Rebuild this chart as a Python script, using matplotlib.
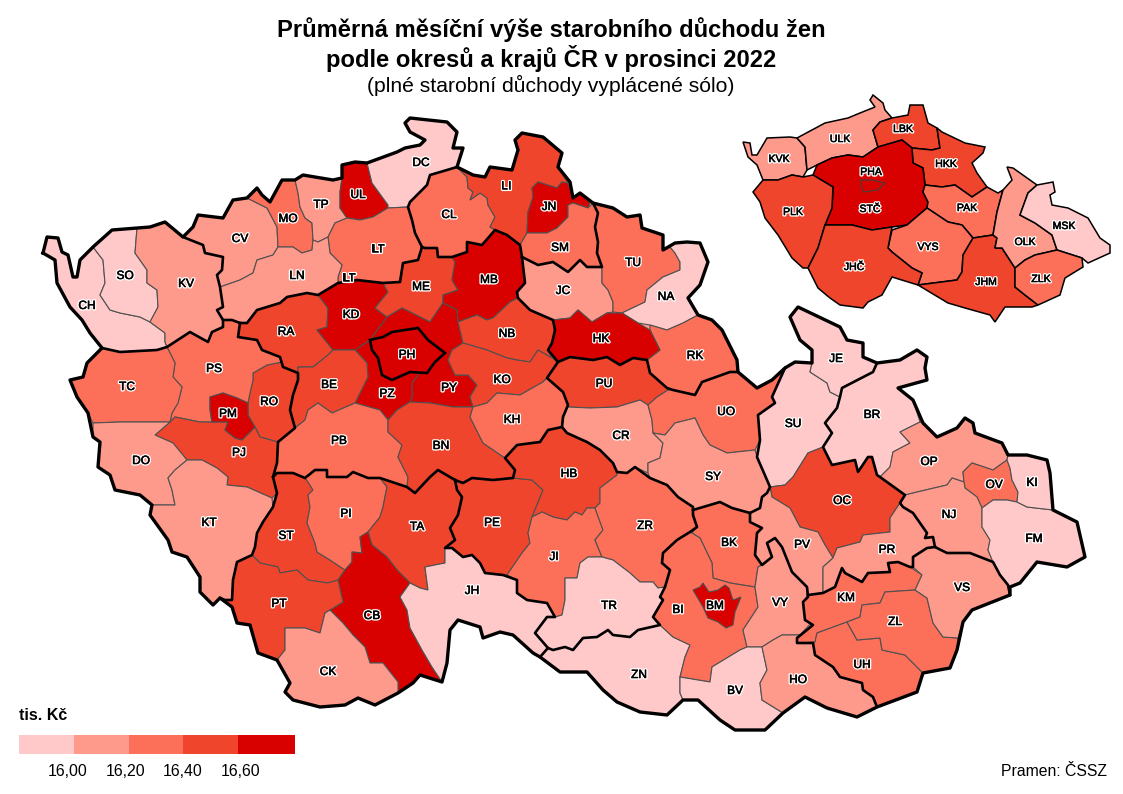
import matplotlib
matplotlib.use('Agg')
import matplotlib.pyplot as plt
import matplotlib.patheffects as pe
from matplotlib.colors import BoundaryNorm, ListedColormap
from matplotlib.patches import Rectangle

plt.rcParams['font.family'] = ['Liberation Sans', 'DejaVu Sans']

low = ['CH', 'SO', 'DC', 'NA', 'JE', 'SU', 'BR', 'FM', 'KI', 'JH', 'TR', 'ZN', 'BV']
mid_low = ['KV', 'CV', 'LN', 'TP', 'JC', 'CR', 'SY', 'DO', 'KT', 'CK', 'OP', 'NJ', 'PR', 'PV', 'VY', 'HO', 'VS']
mid = ['TC', 'PS', 'MO', 'LT', 'CL', 'SM', 'TU', 'RK', 'UO', 'KH', 'PB', 'PI', 'JI', 'ZR', 'BK', 'BI', 'KM', 'ZL', 'UH', 'OV']
mid_high = ['RA', 'ME', 'LI', 'BE', 'RO', 'PJ', 'ST', 'PT', 'TA', 'PE', 'HB', 'BN', 'NB', 'KO', 'PU', 'OC']
high = ['UL', 'JN', 'MB', 'KD', 'PH', 'PZ', 'PY', 'HK', 'PM', 'CB', 'BM']
class_values = [15.9, 16.1, 16.3, 16.5, 16.7]

# same by region
region_codes = ['KVK', 'ULK', 'LBK', 'HKK', 'PHA', 'STC', 'PLK', 'PAK', 'VYS', 'JHC', 'JHM', 'OLK', 'MSK', 'ZLK']
region_values = [16.1, 16.1, 16.5, 16.5, 16.7, 16.7, 16.5, 16.3, 16.3, 16.5, 16.5, 16.1, 15.9, 16.3]
region_names = {'STC': 'STČ', 'JHC': 'JHČ'}

breaks = [15.8, 16.0, 16.2, 16.4, 16.6, 16.8]
legend_labels = ['16,00', '16,20', '16,40', '16,60']
colors = ['#FFC9C9', '#FE9A8B', '#FC705A', '#EF452C', '#D90000']

cmap = ListedColormap(colors)
norm = BoundaryNorm(breaks, cmap.N)

outer = [(43,253),(47,237),(58,238),(62,252),(68,255),(73,277),(77,277),(80,260),(93,247),(112,230),(137,228),(150,227),(165,222),(183,237),(193,227),(198,215),(223,218),(233,200),(247,198),(257,188),(262,195),(270,202),(282,180),(295,180),(303,175),(333,180),(342,178),(342,165),(355,162),(367,163),(397,152),(405,148),(420,145),(425,140),(410,132),(405,123),(410,118),(447,122),(457,132),(453,148),(463,148),(457,167),(473,175),(485,177),(490,167),(512,170),(518,150),(515,140),(522,133),(543,137),(562,153),(558,167),(570,182),(573,198),(580,193),(593,203),(613,208),(627,217),(640,215),(642,228),(663,235),(663,250),(675,243),(687,242),(700,243),(708,262),(700,285),(688,298),(698,315),(712,320),(722,330),(737,360),(738,372),(757,388),(772,380),(785,368),(795,362),(812,363),(812,350),(800,340),(790,317),(798,307),(840,327),(847,340),(863,343),(863,357),(877,363),(900,360),(917,350),(927,357),(925,368),(927,380),(898,388),(913,400),(923,423),(937,437),(957,428),(965,418),(973,423),(975,433),(1002,443),(1008,455),(1027,455),(1047,460),(1050,473),(1053,510),(1077,522),(1085,557),(1067,567),(1037,562),(1020,583),(1010,587),(1010,595),(972,610),(963,622),(957,650),(950,668),(923,673),(917,692),(877,707),(857,717),(827,708),(805,697),(783,713),(765,730),(735,730),(720,720),(698,700),(683,700),(667,715),(640,712),(617,702),(603,690),(587,672),(560,672),(540,657),(533,653),(513,635),(500,632),(483,638),(480,627),(458,620),(450,630),(447,663),(442,682),(420,675),(413,683),(398,693),(375,705),(358,698),(345,705),(320,707),(293,700),(285,692),(290,683),(277,660),(258,653),(250,625),(237,623),(232,607),(220,598),(213,605),(200,592),(200,577),(187,557),(172,552),(168,540),(150,515),(152,505),(140,495),(115,490),(110,475),(98,467),(100,442),(93,437),(88,413),(77,397),(70,380),(83,377),(87,363),(102,348),(90,333),(82,320),(70,307),(57,283),(55,260),(43,253)]

shapes = {
    'CH': [(43,253),(47,237),(58,238),(62,252),(68,255),(73,277),(77,277),(80,260),(93,247),(103,260),(105,283),(100,295),(110,310),(120,313),(140,317),(150,322),(165,333),(165,342),(167,347),(157,350),(120,352),(102,348),(90,333),(82,320),(70,307),(57,283),(55,260)],
    'SO': [(93,247),(112,230),(137,228),(135,253),(147,270),(147,283),(157,290),(158,307),(150,322),(140,317),(120,313),(110,310),(100,295),(105,283),(103,260)],
    'KV': [(137,228),(150,227),(165,222),(183,237),(203,245),(205,253),(223,257),(222,270),(217,275),(220,287),(223,307),(217,310),(223,320),(223,327),(212,332),(208,342),(190,332),(167,347),(165,342),(165,333),(150,322),(158,307),(157,290),(147,283),(147,270),(135,253)],
    'CV': [(183,237),(193,227),(198,215),(223,218),(233,200),(247,198),(257,203),(267,208),(277,227),(278,247),(273,255),(257,260),(253,273),(240,280),(220,287),(217,275),(222,270),(223,257),(205,253),(203,245)],
    'MO': [(247,198),(257,188),(262,195),(270,202),(282,180),(295,180),(298,193),(300,207),(305,218),(312,223),(313,240),(312,250),(302,253),(293,247),(278,247),(277,227),(267,208),(257,203)],
    'TP': [(295,180),(303,175),(333,180),(342,178),(340,192),(340,208),(347,218),(335,223),(328,237),(318,242),(313,240),(312,223),(305,218),(300,207),(298,193)],
    'UL': [(342,178),(342,165),(355,162),(367,163),(372,183),(388,205),(388,208),(373,217),(360,220),(347,218),(340,208),(340,192)],
    'DC': [(367,163),(397,152),(405,148),(420,145),(425,140),(410,132),(405,123),(410,118),(447,122),(457,132),(453,148),(463,148),(457,167),(447,170),(430,175),(427,185),(410,202),(408,207),(388,208),(388,205),(372,183)],
    'LT': [(347,218),(360,220),(373,217),(388,208),(408,207),(412,220),(415,233),(422,247),(418,260),(403,263),(400,282),(383,283),(357,280),(338,283),(338,277),(342,265),(330,253),(328,237),(335,223)],
    'LN': [(278,247),(293,247),(302,253),(312,250),(313,240),(318,242),(328,237),(330,253),(342,265),(338,277),(338,283),(318,295),(307,293),(287,297),(280,303),(257,310),(247,323),(240,323),(232,320),(223,320),(217,310),(223,307),(220,287),(240,280),(253,273),(257,260),(273,255)],
    'RA': [(247,323),(257,310),(280,303),(287,297),(307,293),(318,295),(328,308),(327,327),(317,330),(333,350),(328,355),(313,367),(298,367),(298,373),(283,367),(280,357),(262,350),(257,340),(238,337),(240,323)],
    'KD': [(318,295),(338,283),(357,280),(383,283),(388,292),(375,308),(387,317),(370,340),(355,350),(333,350),(317,330),(327,327),(328,308)],
    'ME': [(418,260),(422,247),(425,248),(437,248),(438,257),(452,257),(455,262),(452,280),(458,290),(443,295),(443,303),(430,322),(410,312),(402,308),(387,317),(375,308),(388,292),(383,283),(400,282),(403,263)],
    'MB': [(452,257),(467,252),(467,242),(482,245),(495,230),(507,235),(520,245),(522,257),(525,283),(517,292),(518,298),(510,302),(493,318),(487,320),(477,315),(458,322),(457,310),(443,303),(443,295),(458,290),(452,280),(455,262)],
    'PY': [(387,317),(402,308),(410,312),(430,322),(443,303),(457,310),(458,322),(463,343),(452,350),(448,360),(455,375),(468,375),(477,385),(470,397),(473,407),(453,407),(430,403),(410,402),(412,397),(412,383),(420,372),(427,373),(435,362),(445,353),(428,340),(418,328),(392,332),(383,337),(370,340)],
    'PZ': [(370,340),(372,350),(378,358),(382,375),(392,380),(410,372),(420,372),(412,383),(412,397),(410,402),(397,410),(388,420),(380,410),(355,403),(368,377),(367,363),(355,350)],
    'BE': [(298,367),(313,367),(328,355),(333,350),(355,350),(367,363),(368,377),(355,403),(332,413),(318,403),(308,410),(305,420),(295,428),(290,410),(293,395),(298,380),(298,373)],
    'RO': [(282,362),(283,367),(298,373),(298,380),(293,395),(290,410),(295,428),(278,442),(260,437),(255,427),(248,415),(248,403),(250,393),(253,380),(253,373),(267,365)],
    'PM': [(210,397),(223,393),(237,398),(248,403),(248,415),(255,427),(242,440),(235,438),(225,430),(228,422),(212,422),(210,410)],
    'PS': [(167,347),(190,332),(208,342),(212,332),(223,327),(223,320),(232,320),(240,323),(238,337),(257,340),(262,350),(280,357),(283,367),(282,362),(267,365),(253,373),(253,380),(250,393),(248,403),(237,398),(223,393),(210,397),(210,410),(212,422),(200,422),(175,417),(170,422),(172,413),(178,403),(182,387),(173,377),(175,363)],
    'TC': [(102,348),(120,352),(157,350),(167,347),(175,363),(173,377),(182,387),(178,403),(172,413),(170,422),(145,422),(120,422),(93,423),(88,413),(77,397),(70,380),(83,377),(87,363)],
    'PJ': [(155,435),(170,422),(175,417),(200,422),(212,422),(228,422),(225,430),(235,438),(242,440),(255,427),(260,437),(278,442),(277,463),(273,477),(277,493),(272,498),(247,487),(227,485),(228,477),(217,468),(202,460),(187,460),(173,443)],
    'DO': [(93,423),(120,422),(145,422),(170,422),(155,435),(173,443),(187,460),(175,470),(168,478),(172,490),(175,505),(155,505),(152,505),(140,495),(115,490),(110,475),(98,467),(100,442),(93,437)],
    'KT': [(152,505),(175,505),(172,490),(168,478),(175,470),(187,460),(202,460),(217,468),(228,477),(227,485),(247,487),(272,498),(273,507),(263,522),(257,533),(255,547),(252,555),(237,562),(233,580),(232,600),(225,600),(220,598),(213,605),(200,592),(200,577),(187,557),(172,552),(168,540),(150,515)],
    'PB': [(273,477),(277,473),(293,473),(305,478),(315,470),(327,470),(327,477),(347,477),(353,472),(368,478),(380,478),(407,487),(408,477),(398,457),(402,445),(388,432),(388,420),(380,410),(355,403),(332,413),(318,403),(308,410),(305,420),(295,428),(278,442),(277,463)],
    'BN': [(388,420),(397,410),(410,402),(430,403),(453,407),(473,407),(470,417),(483,443),(505,458),(515,470),(513,478),(493,480),(472,478),(463,483),(455,480),(438,470),(430,477),(415,493),(407,487),(408,477),(398,457),(402,445),(388,432)],
    'ST': [(273,477),(277,473),(293,473),(305,478),(308,482),(313,490),(308,495),(310,507),(307,523),(315,543),(317,552),(330,560),(345,570),(338,580),(328,583),(308,580),(297,570),(280,573),(278,567),(260,563),(252,555),(255,547),(257,533),(263,522),(273,507),(277,493)],
    'PI': [(305,478),(315,470),(327,470),(327,477),(347,477),(353,472),(368,478),(380,478),(387,487),(383,507),(380,517),(368,532),(360,537),(362,553),(352,552),(352,562),(345,570),(330,560),(317,552),(315,543),(307,523),(310,507),(308,495),(313,490),(308,482)],
    'TA': [(380,478),(407,487),(415,493),(430,477),(438,470),(455,480),(457,490),(462,497),(458,515),(450,528),(455,540),(445,548),(445,563),(425,567),(428,590),(420,588),(410,583),(397,570),(387,557),(372,545),(368,532),(380,517),(383,507),(387,487)],
    'CB': [(368,532),(372,545),(387,557),(397,570),(410,583),(400,597),(407,610),(410,628),(422,650),(432,667),(442,682),(420,675),(413,683),(398,693),(398,682),(383,663),(370,663),(365,647),(353,635),(343,623),(330,610),(343,602),(338,580),(345,570),(352,562),(352,552),(362,553),(360,537)],
    'PT': [(252,555),(260,563),(278,567),(280,573),(297,570),(308,580),(328,583),(338,580),(343,602),(330,610),(325,613),(320,633),(305,628),(285,628),(285,650),(277,660),(258,653),(250,625),(237,623),(232,607),(220,598),(225,600),(232,600),(233,580),(237,562)],
    'CK': [(277,660),(285,650),(285,628),(305,628),(320,633),(325,613),(330,610),(343,623),(353,635),(365,647),(370,663),(383,663),(398,682),(398,693),(375,705),(358,698),(345,705),(320,707),(293,700),(285,692),(290,683)],
    'JH': [(410,583),(420,588),(428,590),(425,567),(445,563),(445,548),(452,548),(463,557),(472,555),(480,563),(485,573),(503,575),(517,580),(517,593),(527,600),(547,603),(555,617),(547,617),(535,633),(548,648),(540,657),(533,653),(513,635),(500,632),(483,638),(480,627),(458,620),(450,630),(447,663),(442,682),(432,667),(422,650),(410,628),(407,610),(400,597)],
    'PE': [(513,478),(532,480),(543,490),(537,505),(532,517),(528,533),(530,543),(522,553),(507,575),(503,575),(485,573),(480,563),(472,555),(463,557),(452,548),(445,548),(455,540),(450,528),(458,515),(462,497),(457,490),(455,480),(463,483),(472,478),(493,480)],
    'HB': [(505,458),(517,445),(540,442),(548,430),(562,427),(567,433),(587,442),(600,450),(613,463),(617,472),(617,475),(600,488),(600,503),(595,508),(587,508),(582,515),(575,512),(567,520),(553,517),(542,512),(532,517),(537,505),(543,490),(532,480),(513,478),(515,470)],
    'JI': [(532,517),(542,512),(553,517),(567,520),(575,512),(582,515),(587,508),(595,508),(603,530),(595,540),(602,557),(588,557),(580,563),(577,578),(565,578),(565,600),(562,615),(555,617),(547,603),(527,600),(517,593),(517,580),(507,575),(522,553),(530,543),(528,533)],
    'ZR': [(617,472),(627,473),(635,467),(650,478),(667,485),(678,497),(693,507),(693,515),(697,527),(690,532),(677,540),(663,553),(662,563),(670,570),(665,587),(658,588),(653,582),(640,582),(630,573),(613,560),(602,557),(595,540),(603,530),(595,508),(600,503),(600,488),(617,475)],
    'TR': [(602,557),(613,560),(630,573),(640,582),(653,582),(658,588),(665,587),(660,597),(663,600),(653,617),(660,625),(638,630),(630,637),(613,635),(608,630),(597,637),(583,638),(573,650),(565,647),(553,650),(548,648),(535,633),(547,617),(555,617),(562,615),(565,600),(565,578),(577,578),(580,563),(588,557)],
    'ZN': [(548,648),(553,650),(565,647),(573,650),(583,638),(597,637),(608,630),(613,635),(630,637),(638,630),(660,625),(673,637),(690,645),(685,657),(680,677),(680,693),(683,700),(667,715),(640,712),(617,702),(603,690),(587,672),(560,672),(540,657)],
    'BK': [(693,510),(720,502),(732,508),(750,513),(750,522),(762,528),(757,533),(755,555),(762,565),(758,567),(755,587),(730,583),(713,578),(712,563),(700,538),(692,533),(697,527),(693,515)],
    'BI': [(692,533),(700,538),(712,563),(713,578),(730,583),(755,587),(758,607),(743,630),(747,647),(740,650),(712,667),(710,682),(680,677),(685,657),(690,645),(673,637),(660,625),(653,617),(663,600),(660,597),(665,587),(670,570),(662,563),(663,553),(677,540),(690,532)],
    'BM': [(693,590),(700,587),(703,583),(709,592),(718,590),(725,585),(729,588),(733,600),(741,597),(735,612),(733,625),(726,628),(718,622),(708,618),(703,607)],
    'VY': [(758,567),(762,565),(772,557),(767,543),(775,538),(782,547),(792,572),(807,587),(808,597),(803,602),(805,620),(812,622),(800,635),(782,635),(773,640),(762,647),(747,647),(743,630),(758,607),(755,587)],
    'BV': [(680,677),(710,682),(712,667),(740,650),(747,647),(762,647),(767,670),(760,683),(762,700),(783,713),(765,730),(735,730),(720,720),(698,700),(683,700),(680,693)],
    'HO': [(762,647),(773,640),(782,635),(800,635),(797,643),(813,643),(815,655),(833,667),(840,677),(862,683),(863,690),(873,697),(877,707),(857,717),(827,708),(805,697),(783,713),(762,700),(760,683),(767,670)],
    'KM': [(808,595),(823,593),(835,587),(842,568),(845,573),(862,582),(868,573),(890,572),(888,563),(898,562),(910,567),(922,575),(915,590),(885,592),(880,603),(862,605),(860,617),(847,622),(817,633),(815,642),(797,643),(797,638),(813,625),(805,620),(803,602)],
    'UH': [(817,633),(847,622),(857,640),(880,638),(882,650),(905,655),(923,673),(917,692),(877,707),(873,697),(863,690),(862,683),(840,677),(833,667),(815,655),(813,643),(815,642)],
    'ZL': [(847,622),(860,617),(862,605),(880,603),(885,592),(915,590),(927,598),(933,623),(943,637),(958,638),(957,650),(950,668),(923,673),(905,655),(882,650),(880,638),(857,640)],
    'VS': [(922,575),(913,567),(913,557),(927,548),(935,547),(947,553),(970,553),(993,562),(1000,575),(1008,585),(1010,595),(972,610),(963,622),(958,638),(943,637),(933,623),(927,598),(915,590)],
    'SU': [(760,413),(775,403),(772,397),(785,368),(795,362),(812,363),(810,372),(827,383),(830,392),(840,397),(837,408),(825,423),(832,433),(823,447),(808,453),(793,477),(785,485),(770,487),(767,480),(757,457),(760,440),(758,415)],
    'JE': [(812,363),(812,350),(800,340),(790,317),(798,307),(840,327),(847,340),(863,343),(863,357),(877,363),(873,372),(842,388),(840,397),(830,392),(827,383),(810,372)],
    'BR': [(877,363),(900,360),(917,350),(927,357),(925,368),(927,380),(898,388),(913,400),(920,422),(900,432),(910,443),(893,452),(890,467),(880,477),(877,475),(872,457),(868,457),(858,472),(855,460),(832,465),(823,447),(832,433),(825,423),(837,408),(840,397),(842,388),(873,372)],
    'OC': [(823,447),(832,465),(855,460),(858,472),(868,457),(872,457),(877,475),(880,477),(905,495),(900,503),(890,518),(890,532),(863,535),(860,542),(837,548),(833,558),(825,545),(818,532),(800,527),(790,508),(772,497),(770,487),(785,485),(793,477),(808,453)],
    'PV': [(770,487),(772,497),(790,508),(800,527),(818,532),(825,545),(833,558),(823,567),(823,593),(808,595),(807,587),(792,572),(782,547),(775,538),(767,543),(772,557),(762,565),(755,555),(757,533),(762,528),(750,522),(750,513),(760,508),(762,497),(767,493)],
    'PR': [(823,567),(833,558),(837,548),(860,542),(863,535),(890,532),(890,518),(900,503),(903,507),(913,513),(927,533),(925,538),(933,537),(935,547),(927,548),(913,557),(913,567),(910,567),(898,562),(888,563),(890,572),(868,573),(862,582),(845,573),(842,568),(835,587),(823,593)],
    'OP': [(880,477),(890,467),(893,452),(910,443),(900,432),(920,422),(923,423),(937,437),(957,428),(965,418),(973,423),(975,433),(1002,443),(1008,455),(1007,460),(993,470),(972,463),(963,472),(964,482),(952,478),(947,485),(917,492),(905,495)],
    'OV': [(963,472),(972,463),(993,470),(1007,460),(1010,468),(1012,480),(1018,492),(1017,502),(1007,500),(993,500),(982,508),(977,497),(965,488),(964,482)],
    'NJ': [(905,495),(917,492),(947,485),(952,478),(964,482),(965,488),(977,497),(982,508),(982,527),(990,540),(988,550),(993,562),(970,553),(947,553),(935,547),(933,537),(925,538),(927,533),(913,513),(903,507),(900,503)],
    'FM': [(982,508),(993,500),(1007,500),(1017,502),(1027,507),(1053,510),(1077,522),(1085,557),(1067,567),(1037,562),(1020,583),(1010,587),(1008,585),(1000,575),(993,562),(988,550),(990,540),(982,527)],
    'KI': [(1007,460),(1008,455),(1027,455),(1047,460),(1050,473),(1053,510),(1027,507),(1017,502),(1018,492),(1012,480),(1010,468)],
    'CL': [(430,175),(447,170),(457,167),(467,177),(468,188),(473,192),(470,200),(480,193),(487,198),(488,205),(495,217),(490,227),(495,230),(482,245),(467,242),(467,252),(452,257),(438,257),(437,248),(425,248),(422,247),(415,233),(412,220),(408,207),(410,202),(427,185)],
    'LI': [(457,167),(473,175),(485,177),(490,167),(512,170),(518,150),(515,140),(522,133),(543,137),(562,153),(558,167),(568,183),(562,182),(557,188),(538,182),(532,188),(533,197),(528,212),(527,233),(520,245),(507,235),(495,230),(490,227),(495,217),(488,205),(487,198),(480,193),(470,200),(473,192),(468,188),(467,177)],
    'JN': [(562,182),(568,183),(573,198),(580,193),(590,203),(588,208),(573,203),(568,205),(568,217),(557,228),(547,233),(527,233),(528,212),(533,197),(532,188),(538,182),(557,188)],
    'SM': [(527,233),(547,233),(557,228),(568,217),(568,205),(573,203),(588,208),(593,203),(598,213),(595,227),(598,242),(597,253),(602,267),(587,267),(580,260),(568,272),(553,262),(538,265),(522,257),(520,245)],
    'JC': [(522,257),(538,265),(553,262),(568,272),(580,260),(587,267),(602,267),(602,283),(608,290),(613,302),(613,312),(607,313),(592,322),(578,310),(570,318),(553,320),(530,310),(518,298),(517,292),(525,283)],
    'TU': [(593,203),(613,208),(627,217),(640,215),(642,228),(663,235),(663,250),(670,247),(675,253),(680,262),(680,270),(663,277),(647,290),(645,302),(622,313),(613,312),(613,302),(608,290),(602,283),(602,267),(597,253),(598,242),(595,227),(598,213)],
    'NA': [(670,247),(675,243),(687,242),(700,243),(708,262),(700,285),(688,298),(698,315),(683,323),(667,330),(650,325),(638,323),(622,313),(645,302),(647,290),(663,277),(680,270),(680,262),(675,253)],
    'RK': [(650,325),(667,330),(683,323),(698,315),(712,320),(722,330),(737,360),(738,372),(730,372),(702,382),(695,395),(673,390),(667,388),(650,373),(647,360),(660,350),(650,330)],
    'HK': [(553,320),(570,318),(578,310),(592,322),(607,313),(622,313),(638,323),(650,330),(660,350),(647,360),(633,358),(620,365),(607,357),(593,360),(570,357),(558,362),(548,350),(552,343),(555,330)],
    'NB': [(458,322),(477,315),(487,320),(493,318),(510,302),(518,298),(530,310),(553,320),(555,330),(552,343),(548,350),(552,358),(538,350),(530,362),(517,360),(507,358),(487,350),(463,343)],
    'KO': [(463,343),(487,350),(507,358),(517,360),(530,362),(538,350),(552,358),(558,362),(547,378),(543,382),(520,395),(497,393),(487,403),(473,407),(470,397),(477,385),(468,375),(455,375),(448,360),(452,350)],
    'KH': [(473,407),(487,403),(497,393),(520,395),(543,382),(547,378),(563,392),(568,405),(563,417),(562,427),(548,430),(540,442),(517,445),(505,458),(483,443),(470,417)],
    'PU': [(547,378),(558,362),(570,357),(593,360),(607,357),(620,365),(633,358),(647,360),(650,373),(667,388),(668,390),(657,397),(648,405),(640,400),(617,407),(590,408),(568,407),(568,405),(563,392)],
    'CR': [(568,407),(590,408),(617,407),(640,400),(648,405),(652,420),(653,433),(663,443),(660,458),(648,463),(648,473),(635,467),(627,473),(617,472),(613,463),(600,450),(587,442),(567,433),(562,427),(563,417)],
    'UO': [(668,390),(673,390),(695,395),(702,382),(730,372),(738,372),(757,388),(772,380),(785,368),(772,397),(775,403),(758,415),(760,440),(755,450),(727,453),(710,445),(703,435),(695,418),(675,423),(665,435),(653,433),(652,420),(648,405),(657,397)],
    'SY': [(653,433),(665,435),(675,423),(695,418),(703,435),(710,445),(727,453),(755,450),(757,457),(767,480),(770,487),(767,493),(762,497),(760,508),(750,513),(732,508),(720,502),(693,510),(693,507),(678,497),(667,485),(650,478),(648,473),(648,463),(660,458),(663,443)],
    'PH': [(370,340),(383,337),(392,332),(418,328),(428,340),(445,353),(435,362),(427,373),(410,372),(392,380),(382,375),(378,358),(372,350)],
}

# borders between regions, thick black
region_lines = [
    [(102,348),(120,352),(157,350),(167,347),(190,332),(208,342),(212,332),(223,327),(223,320)],
    [(183,237),(203,245),(205,253),(223,257),(222,270),(217,275),(220,287),(223,307),(217,310),(223,320),(232,320),(240,323),(247,323),(257,310),(280,303),(287,297),(307,293),(318,295),(338,283),(357,280),(383,283),(400,282),(403,263),(418,260),(422,247),(415,233),(412,220),(408,207),(410,202),(427,185),(430,175),(447,170),(457,167)],
    [(240,323),(238,337),(257,340),(262,350),(280,357),(283,367),(298,373),(298,380),(293,395),(290,410),(295,428),(278,442),(277,463),(273,477),(277,493),(273,507),(263,522),(257,533),(255,547),(252,555),(237,562),(233,580),(232,600),(225,600),(220,598)],
    [(273,477),(277,473),(293,473),(305,478),(315,470),(327,470),(327,477),(347,477),(353,472),(368,478),(380,478),(407,487),(415,493),(430,477),(438,470),(455,480),(463,483),(472,478),(493,480),(513,478),(515,470),(505,458),(517,445),(540,442),(548,430),(562,427),(563,417),(568,405),(563,392),(547,378),(558,362),(548,350),(552,343),(555,330),(553,320),(530,310),(518,298),(517,292),(525,283),(522,257),(520,245),(507,235),(495,230),(482,245),(467,242),(467,252),(452,257),(438,257),(437,248),(425,248),(422,247)],
    [(455,480),(457,490),(462,497),(458,515),(450,528),(455,540),(445,548),(452,548),(463,557),(472,555),(480,563),(485,573),(503,575),(517,580),(517,593),(527,600),(547,603),(555,617),(547,617),(535,633),(548,648),(540,657)],
    [(522,257),(538,265),(553,262),(568,272),(580,260),(587,267),(602,267),(597,253),(598,242),(595,227),(598,213),(593,203)],
    [(558,362),(570,357),(593,360),(607,357),(620,365),(633,358),(647,360),(650,373),(667,388),(673,390),(695,395),(702,382),(730,372),(738,372)],
    [(562,427),(567,433),(587,442),(600,450),(613,463),(617,472),(627,473),(635,467),(650,478),(667,485),(678,497),(693,507),(693,515),(697,527),(690,532),(677,540),(663,553),(662,563),(670,570),(665,587),(660,597),(663,600),(653,617),(660,625),(638,630),(630,637),(613,635),(608,630),(597,637),(583,638),(573,650),(565,647),(553,650),(548,648)],
    [(693,510),(720,502),(732,508),(750,513),(760,508),(762,497),(767,493),(770,487),(767,480),(757,457),(760,440),(758,415),(775,403),(772,397),(785,368)],
    [(750,513),(750,522),(762,528),(757,533),(755,555),(762,565),(772,557),(767,543),(775,538),(782,547),(792,572),(807,587),(808,597),(803,602),(805,620),(813,625),(797,638),(797,643),(813,643),(815,655),(833,667),(840,677),(862,683),(863,690),(873,697),(877,707)],
    [(808,595),(823,593),(835,587),(842,568),(845,573),(862,582),(868,573),(890,572),(888,563),(898,562),(910,567),(913,567),(913,557),(927,548),(935,547)],
    [(877,363),(873,372),(842,388),(840,397),(837,408),(825,423),(832,433),(823,447),(832,465),(855,460),(858,472),(868,457),(872,457),(877,475),(880,477),(905,495),(900,503),(903,507),(913,513),(927,533),(925,538),(933,537),(935,547),(947,553),(970,553),(993,562),(1000,575),(1008,585),(1010,595)],
]

inset_shapes = {
    'KVK': [(743,142),(750,143),(752,155),(757,155),(767,138),(790,137),(797,138),(805,147),(807,170),(803,177),(792,175),(778,180),(763,180),(757,165),(748,157),(745,148)],
    'ULK': [(797,138),(825,123),(848,118),(860,113),(875,107),(870,100),(873,95),(883,103),(885,110),(892,118),(880,122),(873,130),(878,147),(863,157),(848,155),(832,158),(817,165),(807,170),(805,147)],
    'LBK': [(873,130),(880,122),(892,118),(908,115),(910,105),(923,105),(928,123),(937,128),(940,148),(932,150),(912,148),(902,140),(878,147)],
    'HKK': [(937,128),(942,132),(965,143),(985,147),(983,153),(972,163),(977,173),(987,187),(972,197),(955,185),(942,187),(925,185),(923,168),(913,163),(912,148),(932,150),(940,148)],
    'PAK': [(925,185),(942,187),(955,185),(972,197),(987,187),(998,193),(1003,190),(997,212),(993,235),(973,238),(962,225),(948,222),(927,208),(928,202),(923,192)],
    'OLK': [(1007,167),(1013,168),(1037,185),(1028,193),(1020,215),(1035,223),(1052,235),(1057,250),(1035,255),(1025,260),(1015,268),(1002,248),(995,248),(997,238),(993,235),(997,212),(1003,190),(1012,180)],
    'MSK': [(1037,185),(1053,182),(1055,192),(1050,195),(1052,205),(1068,208),(1088,218),(1100,238),(1110,245),(1110,253),(1088,263),(1082,258),(1057,250),(1052,235),(1035,223),(1020,215),(1028,193)],
    'ZLK': [(1015,268),(1025,260),(1035,255),(1057,250),(1082,258),(1083,267),(1065,278),(1060,295),(1038,305),(1025,295),(1015,287)],
    'JHM': [(973,238),(993,235),(997,238),(995,248),(1002,248),(1015,268),(1015,287),(1025,295),(1038,305),(1032,307),(1005,307),(995,322),(990,315),(965,308),(948,303),(923,288),(918,285),(957,280),(962,272),(963,255)],
    'VYS': [(888,248),(892,230),(907,225),(927,208),(948,222),(962,225),(973,238),(963,255),(962,272),(957,280),(918,285),(922,273),(912,268),(892,252)],
    'JHC': [(825,225),(852,225),(872,230),(892,227),(888,248),(892,252),(912,268),(922,273),(918,285),(892,277),(882,295),(868,302),(863,308),(840,305),(830,298),(818,288),(808,268),(818,248)],
    'PLK': [(753,192),(763,180),(778,180),(792,175),(803,177),(813,175),(833,187),(832,208),(825,225),(818,248),(808,268),(803,268),(792,258),(778,235),(765,218),(760,202)],
    'STC': [(813,175),(817,165),(832,158),(848,155),(863,157),(878,147),(902,140),(912,148),(913,163),(923,168),(925,185),(923,192),(928,202),(927,208),(907,225),(892,227),(872,230),(852,225),(825,225),(832,208),(833,187)],
    'PHA': [(860,180),(872,180),(885,183),(878,190),(863,192)],
}

# label anchor of each unit
label_pos = {
    'CH': (87,306), 'SO': (125,276), 'KV': (186,284), 'CV': (240,239), 'MO': (288,219), 'TP': (321,205),
    'UL': (358,195), 'LT': (378,249), 'LN': (297,276), 'DC': (421,163), 'CL': (449,215), 'LI': (506,186),
    'JN': (549,207), 'SM': (560,248), 'TU': (633,263), 'JC': (563,291), 'MB': (489,280), 'ME': (421,287),
    'KD': (351,315), 'RA': (286,332), 'NA': (666,297), 'HK': (601,339), 'NB': (507,334), 'PH': (407,355),
    'RK': (695,356), 'PU': (604,384), 'KO': (502,380), 'PY': (449,388), 'PZ': (387,394), 'BE': (329,385),
    'RO': (269,402), 'PM': (228,414), 'PS': (214,369), 'TC': (127,387), 'PJ': (239,453), 'DO': (141,461),
    'KT': (209,523), 'PB': (339,441), 'BN': (441,446), 'KH': (512,420), 'CR': (621,436), 'UO': (726,412),
    'SY': (713,477), 'SU': (793,424), 'JE': (836,359), 'BR': (872,415), 'OP': (929,462), 'KI': (1032,483),
    'OV': (994,485), 'NJ': (949,515), 'FM': (1034,539), 'OC': (842,501), 'PV': (802,545), 'PR': (887,550),
    'BK': (729,543), 'ZR': (645,526), 'HB': (569,474), 'PE': (492,523), 'JI': (554,557), 'TA': (417,527),
    'PI': (346,514), 'ST': (286,536), 'PT': (279,604), 'CB': (372,616), 'JH': (472,591), 'TR': (609,606),
    'BI': (678,610), 'BM': (715,606), 'VY': (780,603), 'KM': (846,598), 'ZL': (895,622), 'VS': (962,588),
    'UH': (862,665), 'HO': (798,680), 'BV': (735,691), 'ZN': (639,675), 'CK': (328,672),
}
inset_label_pos = {
    'KVK': (779,159), 'ULK': (840,139), 'LBK': (903,129), 'HKK': (946,164), 'PHA': (871,172), 'STC': (870,209),
    'PLK': (793,212), 'PAK': (967,208), 'VYS': (928,247), 'JHC': (854,267), 'JHM': (986,282), 'OLK': (1025,242),
    'MSK': (1064,226), 'ZLK': (1041,279),
}

groups = [low, mid_low, mid, mid_high, high]
values = {}
for group, val in zip(groups, class_values):
    for code in group:
        values[code] = val


def halo_text(ax, x, y, s, size):
    ax.text(x, y, s, fontsize=size, ha='center', va='center', color='black', zorder=10,
            path_effects=[pe.Stroke(linewidth=2.3, foreground='white'),
                          pe.Stroke(linewidth=0.4, foreground='black'),
                          pe.Normal()])


fig = plt.figure(figsize=(11.23, 7.94), dpi=100)
ax = fig.add_axes((0, 0, 1, 1))
ax.set_xlim(0, 1123)
ax.set_ylim(794, 0)
ax.axis('off')

# main map
xs, ys = zip(*outer)
ax.fill(xs, ys, facecolor=colors[1], edgecolor='none', zorder=1)
for code, pts in shapes.items():
    xs, ys = zip(*pts)
    z = 3 if code in ('PH', 'BM', 'PM') else 2
    ax.fill(xs, ys, facecolor=cmap(norm(values[code])), edgecolor='#505050', linewidth=0.8, zorder=z)

for line in region_lines:
    xs, ys = zip(*line)
    ax.plot(xs, ys, color='black', linewidth=1.9, solid_joinstyle='round', zorder=5)
xs, ys = zip(*outer)
ax.plot(xs, ys, color='black', linewidth=2.4, solid_joinstyle='round', zorder=6)
xs, ys = zip(*shapes['PH'])
ax.fill(xs, ys, facecolor='none', edgecolor='black', linewidth=1.9, zorder=6)

for code, (x, y) in label_pos.items():
    halo_text(ax, x, y, code, 8.6)
halo_text(ax, 349, 278, 'LT', 8.6)

# small regional map
for code, val in zip(region_codes, region_values):
    xs, ys = zip(*inset_shapes[code])
    ax.fill(xs, ys, facecolor=cmap(norm(val)), edgecolor='black', linewidth=1.1, zorder=2)
xs, ys = zip(*inset_shapes['PHA'])
ax.fill(xs, ys, facecolor=cmap(norm(16.7)), edgecolor='#404040', linewidth=0.8, zorder=3)
for code, (x, y) in inset_label_pos.items():
    halo_text(ax, x, y, region_names.get(code, code), 7.6)

# titles
ax.text(551, 30, 'Průměrná měsíční výše starobního důchodu žen', fontsize=17.1, fontweight='bold',
        ha='center', va='center', color='black')
ax.text(551, 58, 'podle okresů a krajů ČR v prosinci 2022', fontsize=17.1, fontweight='bold',
        ha='center', va='center', color='black')
ax.text(551, 85, '(plné starobní důchody vyplácené sólo)', fontsize=15.2, ha='center', va='center', color='black')

# legend
ax.text(19, 716, 'tis. Kč', fontsize=11.5, fontweight='bold', ha='left', va='center', color='black')
edges = [19, 74, 129, 183, 238, 295]
for i, col in enumerate(colors):
    ax.add_patch(Rectangle((edges[i], 735), edges[i + 1] - edges[i], 19, facecolor=col, edgecolor='none'))
for x, lab in zip([68, 126, 183, 241], legend_labels):
    ax.text(x, 771, lab, fontsize=11.4, ha='center', va='center', color='black')
ax.text(1001, 772, 'Pramen: ČSSZ', fontsize=11.3, ha='left', va='center', color='black')

fig.savefig('out.png', dpi=100)
